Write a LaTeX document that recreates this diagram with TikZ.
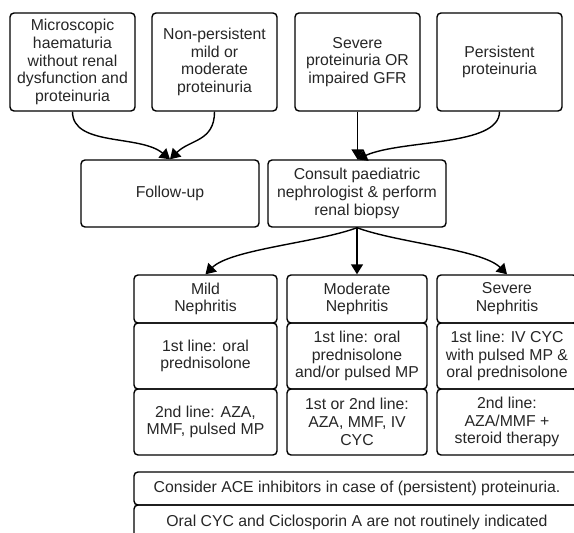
\documentclass[tikz,border=0pt]{standalone}
\usepackage{fontspec}
\setmainfont{Liberation Sans}
\usetikzlibrary{arrows.meta}
\begin{document}
\begin{tikzpicture}[x=1pt,y=-1pt,
  box/.style={draw, line width=1.4pt, rounded corners=4pt, align=center, inner sep=0pt,
    font=\fontsize{15.8}{17.8}\selectfont, text=black!85},
  conn/.style={line width=1.4pt, -{Triangle[length=10pt,width=12pt]}}]
\useasboundingbox (0,0) rectangle (574,533);
\clip (0,0) rectangle (574,533);
% top row
\node[box, minimum width=125pt, minimum height=98pt] (b1) at (72.5,62) {Microscopic\\haematuria\\without renal\\dysfunction and\\proteinuria};
\node[box, minimum width=125pt, minimum height=98pt] (b2) at (214.5,62) {Non-persistent\\mild or\\moderate\\proteinuria};
\node[box, minimum width=125pt, minimum height=98pt] (b3) at (357.5,62) {Severe\\proteinuria OR\\impaired GFR};
\node[box, minimum width=125pt, minimum height=98pt] (b4) at (499.5,62) {Persistent\\proteinuria};
% second row
\node[box, minimum width=178pt, minimum height=67pt] (fu) at (170,193.5) {Follow-up};
\node[box, minimum width=178pt, minimum height=67pt] (cn) at (357,193.5) {Consult paediatric\\nephrologist \& perform\\renal biopsy};
% grid
\node[box, minimum width=143pt, minimum height=48pt] (m1) at (205.5,299) {Mild\\Nephritis};
\node[box, minimum width=143pt, minimum height=66pt] (m2) at (205.5,356) {1st line: oral\\prednisolone};
\node[box, minimum width=143pt, minimum height=66pt] (m3) at (205.5,422) {2nd line: AZA,\\MMF, pulsed MP};
\node[box, minimum width=140pt, minimum height=48pt] (o1) at (357,299) {Moderate\\Nephritis};
\node[box, minimum width=140pt, minimum height=66pt] (o2) at (357,356) {1st line: oral\\prednisolone\\and/or pulsed MP};
\node[box, minimum width=140pt, minimum height=66pt] (o3) at (357,422) {1st or 2nd line:\\AZA, MMF, IV\\CYC};
\node[box, minimum width=140pt, minimum height=48pt] (s1) at (507,299) {Severe\\Nephritis};
\node[box, minimum width=140pt, minimum height=66pt] (s2) at (507,356) {1st line: IV CYC\\with pulsed MP \&\\oral prednisolone};
\node[box, minimum width=140pt, minimum height=66pt] (s3) at (507,422) {2nd line:\\AZA/MMF +\\steroid therapy};
% notes
\node[box, minimum width=446pt, minimum height=33pt] (n1) at (357,488.5) {Consider ACE inhibitors in case of (persistent) proteinuria.};
\node[box, minimum width=446pt, minimum height=40pt] (n2) at (357,525) {};
\node[font=\fontsize{15.8}{17.8}\selectfont, text=black!85, inner sep=0pt, anchor=base] (n2t) at (357,526) {Oral CYC and Ciclosporin A are not routinely indicated};
% connectors
\draw[conn] (b1.south) .. controls +(0,35) and +(-30,-25) .. (fu.north);
\draw[conn] (b2.south) .. controls +(0,30) and +(20,-20) .. (fu.north);
\draw[conn] (b3.south) -- (b3.south |- cn.north);
\draw[conn] (b4.south) .. controls +(0,35) and +(45,-20) .. (cn.north);
\draw[conn] (cn.south) .. controls +(-40,15) and +(25,-25) .. (m1.north);
\draw[conn] (cn.south) -- (o1.north);
\draw[conn] (cn.south) .. controls +(40,15) and +(-25,-25) .. (s1.north);
\end{tikzpicture}
\end{document}
